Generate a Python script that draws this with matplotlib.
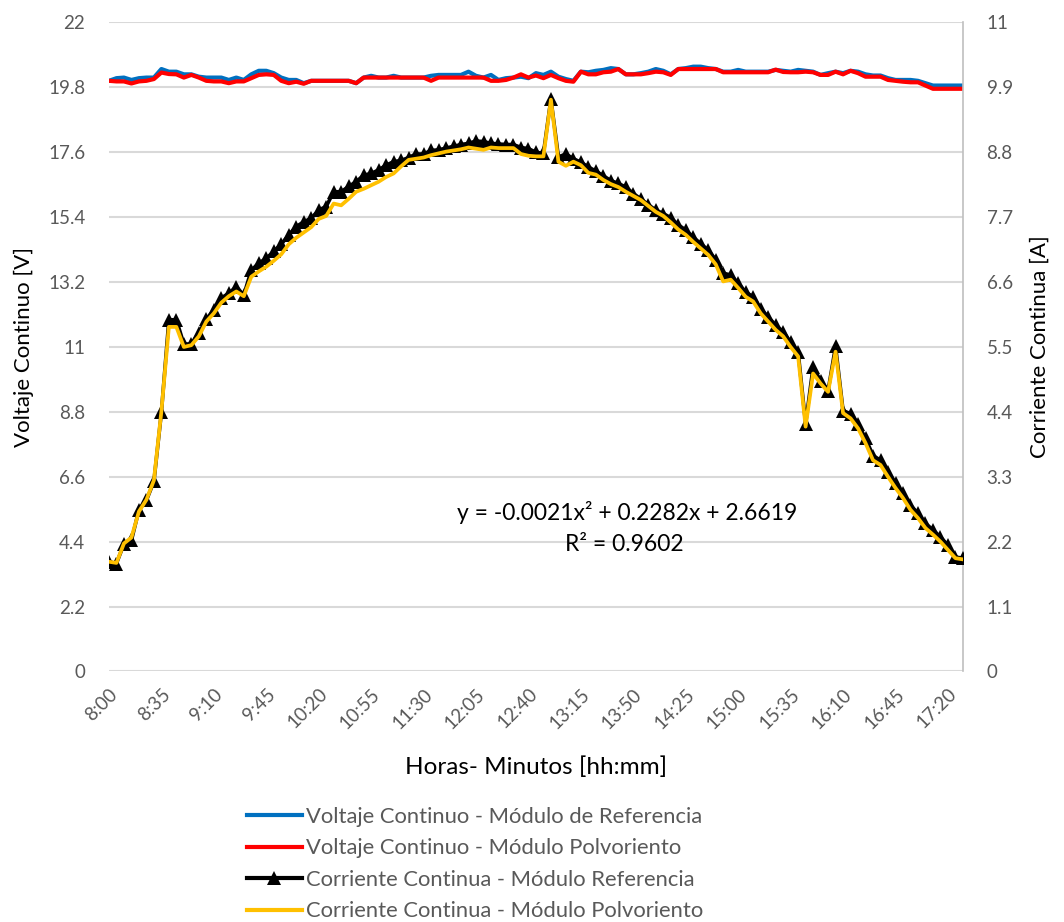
import matplotlib
matplotlib.use("Agg")
import matplotlib.pyplot as plt
from matplotlib.lines import Line2D

plt.rcParams['font.family'] = ['Lato', 'DejaVu Sans']

# ---- data (5-minute samples, 8:00 .. 17:30) ----
n_points = 115
times = [f"{(480 + 5*k)//60}:{(480 + 5*k)%60:02d}" for k in range(n_points)]
tick_labels = ["8:00", "8:35", "9:10", "9:45", "10:20", "10:55", "11:30", "12:05",
               "12:40", "13:15", "13:50", "14:25", "15:00", "15:35", "16:10", "16:45", "17:20"]

volt_ref = [20.02, 20.11, 20.13, 20.05, 20.11, 20.13, 20.13, 20.42, 20.33, 20.33,
            20.24, 20.24, 20.16, 20.13, 20.13, 20.13, 20.05, 20.13, 20.05, 20.24,
            20.36, 20.36, 20.28, 20.13, 20.05, 20.05, 19.94, 20.02, 20.02, 20.02,
            20.02, 20.02, 20.02, 19.94, 20.13, 20.19, 20.13, 20.13, 20.19, 20.13,
            20.13, 20.13, 20.13, 20.19, 20.22, 20.22, 20.22, 20.22, 20.33, 20.19,
            20.13, 20.22, 20.05, 20.11, 20.13, 20.16, 20.11, 20.28, 20.22, 20.33,
            20.16, 20.08, 20.02, 20.33, 20.31, 20.36, 20.39, 20.45, 20.42, 20.24,
            20.24, 20.28, 20.33, 20.42, 20.36, 20.24, 20.42, 20.45, 20.50, 20.50,
            20.45, 20.42, 20.33, 20.33, 20.39, 20.33, 20.33, 20.33, 20.33, 20.39,
            20.36, 20.33, 20.39, 20.36, 20.33, 20.22, 20.28, 20.33, 20.28, 20.36,
            20.33, 20.24, 20.20, 20.20, 20.11, 20.05, 20.05, 20.05, 20.02, 19.94,
            19.86, 19.86, 19.86, 19.86, 19.86]

volt_dust = [20.02, 20.00, 20.00, 19.93, 20.00, 20.02, 20.08, 20.30, 20.25, 20.24,
             20.13, 20.22, 20.13, 20.02, 20.00, 20.00, 19.94, 20.00, 20.00, 20.11,
             20.22, 20.24, 20.22, 20.02, 19.94, 19.99, 19.92, 20.02, 20.02, 20.02,
             20.02, 20.02, 20.02, 19.94, 20.13, 20.13, 20.13, 20.13, 20.13, 20.13,
             20.13, 20.13, 20.13, 20.02, 20.13, 20.13, 20.13, 20.13, 20.13, 20.13,
             20.13, 20.02, 20.02, 20.05, 20.13, 20.24, 20.13, 20.20, 20.11, 20.22,
             20.11, 20.02, 19.99, 20.33, 20.24, 20.24, 20.31, 20.33, 20.42, 20.24,
             20.24, 20.24, 20.28, 20.33, 20.31, 20.22, 20.42, 20.42, 20.42, 20.42,
             20.42, 20.42, 20.31, 20.31, 20.31, 20.31, 20.31, 20.31, 20.31, 20.40,
             20.32, 20.31, 20.31, 20.33, 20.31, 20.22, 20.22, 20.33, 20.24, 20.36,
             20.28, 20.16, 20.16, 20.16, 20.05, 20.02, 19.99, 19.97, 19.97, 19.86,
             19.75, 19.75, 19.75, 19.75, 19.75]

curr_ref = [1.86, 1.83, 2.16, 2.22, 2.74, 2.90, 3.22, 4.39, 5.96, 5.96,
            5.55, 5.55, 5.74, 5.97, 6.13, 6.33, 6.41, 6.52, 6.38, 6.80,
            6.92, 7.00, 7.12, 7.24, 7.40, 7.54, 7.62, 7.68, 7.82, 7.88,
            8.13, 8.13, 8.22, 8.30, 8.41, 8.44, 8.50, 8.58, 8.64, 8.66,
            8.71, 8.77, 8.77, 8.83, 8.84, 8.87, 8.90, 8.93, 8.95, 8.99,
            8.98, 8.95, 8.94, 8.93, 8.93, 8.88, 8.86, 8.80, 8.78, 9.70,
            8.72, 8.77, 8.69, 8.63, 8.55, 8.48, 8.40, 8.32, 8.27, 8.21,
            8.10, 8.01, 7.91, 7.82, 7.76, 7.69, 7.57, 7.48, 7.36, 7.25,
            7.14, 6.98, 6.75, 6.72, 6.58, 6.43, 6.35, 6.15, 6.01, 5.87,
            5.76, 5.58, 5.42, 4.20, 5.16, 4.93, 4.76, 5.51, 4.42, 4.37,
            4.20, 3.95, 3.66, 3.58, 3.38, 3.19, 3.02, 2.82, 2.68, 2.51,
            2.40, 2.28, 2.14, 1.94, 1.92]

curr_dust = [1.86, 1.84, 2.17, 2.27, 2.71, 2.91, 3.24, 4.41, 5.84, 5.84,
             5.50, 5.53, 5.68, 5.93, 6.07, 6.25, 6.36, 6.44, 6.36, 6.69,
             6.78, 6.86, 6.96, 7.07, 7.24, 7.35, 7.44, 7.53, 7.67, 7.72,
             7.93, 7.90, 8.01, 8.13, 8.18, 8.24, 8.30, 8.38, 8.44, 8.56,
             8.67, 8.69, 8.71, 8.75, 8.78, 8.81, 8.83, 8.85, 8.88, 8.86,
             8.84, 8.88, 8.87, 8.87, 8.87, 8.77, 8.74, 8.73, 8.73, 9.69,
             8.64, 8.57, 8.64, 8.58, 8.45, 8.42, 8.33, 8.26, 8.21, 8.13,
             8.06, 7.99, 7.89, 7.79, 7.72, 7.61, 7.49, 7.40, 7.28, 7.17,
             7.06, 6.90, 6.61, 6.64, 6.50, 6.35, 6.27, 6.07, 5.93, 5.79,
             5.68, 5.50, 5.34, 4.15, 5.05, 4.88, 4.74, 5.42, 4.38, 4.29,
             4.12, 3.87, 3.58, 3.50, 3.30, 3.11, 2.94, 2.74, 2.60, 2.43,
             2.32, 2.20, 2.06, 1.92, 1.90]

v_ticks = [0, 2.2, 4.4, 6.6, 8.8, 11, 13.2, 15.4, 17.6, 19.8, 22]
v_tick_labels = ["0", "2.2", "4.4", "6.6", "8.8", "11", "13.2", "15.4", "17.6", "19.8", "22"]
a_ticks = [0, 1.1, 2.2, 3.3, 4.4, 5.5, 6.6, 7.7, 8.8, 9.9, 11]
a_tick_labels = ["0", "1.1", "2.2", "3.3", "4.4", "5.5", "6.6", "7.7", "8.8", "9.9", "11"]

labels = ["Voltaje Continuo - Módulo de Referencia",
          "Voltaje Continuo - Módulo Polvoriento",
          "Corriente Continua - Módulo Referencia",
          "Corriente Continua - Módulo Polvoriento"]

C_BLUE = "#0070C0"
C_RED = "#FF0000"
C_BLACK = "#000000"
C_YEL = "#FFC000"
C_GRID = "#D9D9D9"
C_TXT = "#595959"

fig = plt.figure(figsize=(10.64, 9.22), dpi=100)
ax = fig.add_axes([0.1024, 0.2717, 0.8026, 0.7040])
ax2 = ax.twinx()

x = list(range(n_points))
ax.plot(x, volt_ref, color=C_BLUE, lw=3.0, solid_joinstyle='round', zorder=3)
ax.plot(x, volt_dust, color=C_RED, lw=3.0, solid_joinstyle='round', zorder=4)
ax2.plot(x, curr_ref, color=C_BLACK, lw=2.6, marker='^', markersize=10.5,
         markeredgewidth=0, zorder=3)
ax2.plot(x, curr_dust, color=C_YEL, lw=2.7, solid_joinstyle='round', zorder=4)

ax.set_xlim(0, n_points - 1)
ax.set_ylim(0, 22)
ax2.set_ylim(0, 11)
ax.set_yticks(v_ticks)
ax.set_yticklabels(v_tick_labels)
ax2.set_yticks(a_ticks)
ax2.set_yticklabels(a_tick_labels)

tick_pos = [times.index(t) for t in tick_labels]
ax.set_xticks(tick_pos)
ax.set_xticklabels(tick_labels, rotation=45, ha='right', va='top',
                   rotation_mode='anchor')

ax.grid(axis='y', color=C_GRID, lw=1.5, zorder=0)
ax.set_axisbelow(True)
for a in (ax, ax2):
    for s in ('top', 'left', 'bottom', 'right'):
        a.spines[s].set_visible(False)
ax2.spines['right'].set_visible(True)
ax2.spines['right'].set_color("#BFBFBF")
ax2.spines['right'].set_linewidth(1.2)

ax.tick_params(axis='y', length=0, pad=17, labelsize=13.5, labelcolor=C_TXT)
ax2.tick_params(axis='y', length=0, pad=17, labelsize=13.5, labelcolor=C_TXT)
ax.tick_params(axis='x', length=0, pad=10, labelsize=13.5, labelcolor=C_TXT)

ax.set_ylabel("Voltaje Continuo [V]", fontsize=16, color='black', labelpad=10)
ax2.set_ylabel("Corriente Continua [A]", fontsize=16, color='black', labelpad=12)
ax.set_xlabel("Horas- Minutos [hh:mm]", fontsize=17.5, color='black', labelpad=18)

ax2.text(0.607, 0.245, "y = -0.0021x² + 0.2282x + 2.6619",
         transform=ax.transAxes, ha='center', va='center', fontsize=16.5,
         color='black')
ax2.text(0.603, 0.195, "R² = 0.9602",
         transform=ax.transAxes, ha='center', va='center', fontsize=16.5,
         color='black')

handles = [Line2D([], [], color=C_BLUE, lw=3.0),
           Line2D([], [], color=C_RED, lw=3.0),
           Line2D([], [], color=C_BLACK, lw=3.0, marker='^', markersize=10.5,
                  markeredgewidth=0),
           Line2D([], [], color=C_YEL, lw=3.0)]
leg = fig.legend(handles, labels, loc='upper left',
                 bbox_to_anchor=(0.232, 1 - 807/922),
                 frameon=False, fontsize=15.8, handlelength=2.5, handletextpad=0.2,
                 labelspacing=0.52, borderaxespad=0, borderpad=0)
for t in leg.get_texts():
    t.set_color(C_TXT)

fig.savefig("out.png", dpi=100)
